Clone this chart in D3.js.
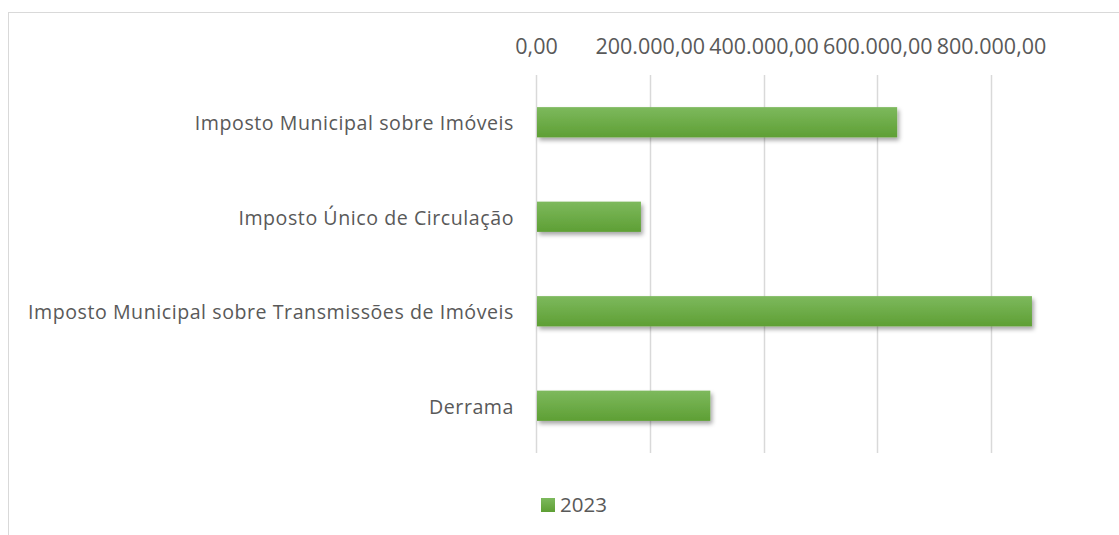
<!DOCTYPE html>
<html>
  <head>
    <script src="https://cdnjs.cloudflare.com/ajax/libs/d3/7.8.5/d3.min.js"></script>
    <style>
      body {
        margin: 0;
        overflow: hidden;
        background: #ffffff;
      }
      text {
        font-family: "Open Sans", "Noto Sans", sans-serif;
        fill: #595959;
      }
    </style>
  </head>
  <body>
    <div id="chart"></div>
    <script>
      // categorias (de cima para baixo)
      const categories = [
        "Imposto Municipal sobre Imóveis",
        "Imposto Único de Circulação",
        "Imposto Municipal sobre Transmissões de Imóveis",
        "Derrama",
      ];
      // valores 2023
      const values2023 = [635000, 184500, 872000, 306500];
      const seriesName = "2023";
      const tickValues = [0, 200000, 400000, 600000, 800000];

      const width = 1119;
      const height = 535;

      const svg = d3
        .select("#chart")
        .append("svg")
        .attr("width", width)
        .attr("height", height);

      // moldura do gráfico (só os lados esquerdo e superior ficam visíveis)
      svg
        .append("rect")
        .attr("x", 8.5)
        .attr("y", 12.5)
        .attr("width", 1140)
        .attr("height", 560)
        .attr("fill", "none")
        .attr("stroke", "#d9d9d9");

      const defs = svg.append("defs");

      const grad = defs
        .append("linearGradient")
        .attr("id", "barGrad")
        .attr("x1", 0)
        .attr("y1", 0)
        .attr("x2", 0)
        .attr("y2", 1);
      grad.append("stop").attr("offset", "0%").attr("stop-color", "#7db95d");
      grad.append("stop").attr("offset", "100%").attr("stop-color", "#5e9f34");

      const shadow = defs
        .append("filter")
        .attr("id", "shadow")
        .attr("x", "-5%")
        .attr("y", "-30%")
        .attr("width", "115%")
        .attr("height", "190%");
      shadow
        .append("feDropShadow")
        .attr("dx", 2)
        .attr("dy", 3)
        .attr("stdDeviation", 2.2)
        .attr("flood-color", "#000")
        .attr("flood-opacity", 0.35);

      // escalas
      const x = d3.scaleLinear().domain([0, 800000]).range([536, 991]);
      const y = d3
        .scaleBand()
        .domain(categories)
        .range([75, 453])
        .paddingInner(0.68)
        .paddingOuter(0.34);

      // formato português: 200.000,00
      const fmt = (v) => {
        const s = d3.format(",.2f")(v);
        return s.replace(/,/g, "#").replace(".", ",").replace(/#/g, ".");
      };

      // grelha vertical
      svg
        .append("g")
        .selectAll("line")
        .data(tickValues)
        .join("line")
        .attr("x1", (d) => Math.round(x(d)) + 0.5)
        .attr("x2", (d) => Math.round(x(d)) + 0.5)
        .attr("y1", 75)
        .attr("y2", 453)
        .attr("stroke", "#d9d9d9")
        .attr("stroke-width", 1.5);

      // eixo superior
      const xAxis = svg
        .append("g")
        .attr("transform", "translate(0,54)")
        .call(d3.axisTop(x).tickValues(tickValues).tickFormat(fmt).tickSize(0).tickPadding(0));
      xAxis.select(".domain").remove();
      xAxis
        .selectAll("text")
        .style("font-size", "21.5px")
        .style("fill", "#595959")
        .style("font-family", "'Open Sans', sans-serif");

      // eixo das categorias
      const yAxis = svg
        .append("g")
        .attr("transform", "translate(514,0)")
        .call(d3.axisLeft(y).tickSize(0).tickPadding(0));
      yAxis.select(".domain").remove();
      yAxis
        .selectAll("text")
        .attr("dy", "0.41em")
        .style("font-size", "19.6px")
        .style("letter-spacing", "0.55px")
        .style("fill", "#595959")
        .style("font-family", "'Open Sans', sans-serif");

      // barras
      svg
        .append("g")
        .selectAll("rect")
        .data(categories)
        .join("rect")
        .attr("x", x(0) + 1)
        .attr("y", (d) => y(d))
        .attr("width", (d, i) => x(values2023[i]) - x(0) - 1)
        .attr("height", y.bandwidth())
        .attr("fill", "url(#barGrad)")
        .attr("filter", "url(#shadow)");

      // legenda
      const legend = svg.append("g").attr("transform", "translate(541,498)");
      legend
        .append("rect")
        .attr("width", 14)
        .attr("height", 14)
        .attr("fill", "url(#barGrad)");
      legend
        .append("text")
        .attr("x", 19)
        .attr("y", 14)
        .style("font-size", "20.5px")
        .text(seriesName);
    </script>
  </body>
</html>
